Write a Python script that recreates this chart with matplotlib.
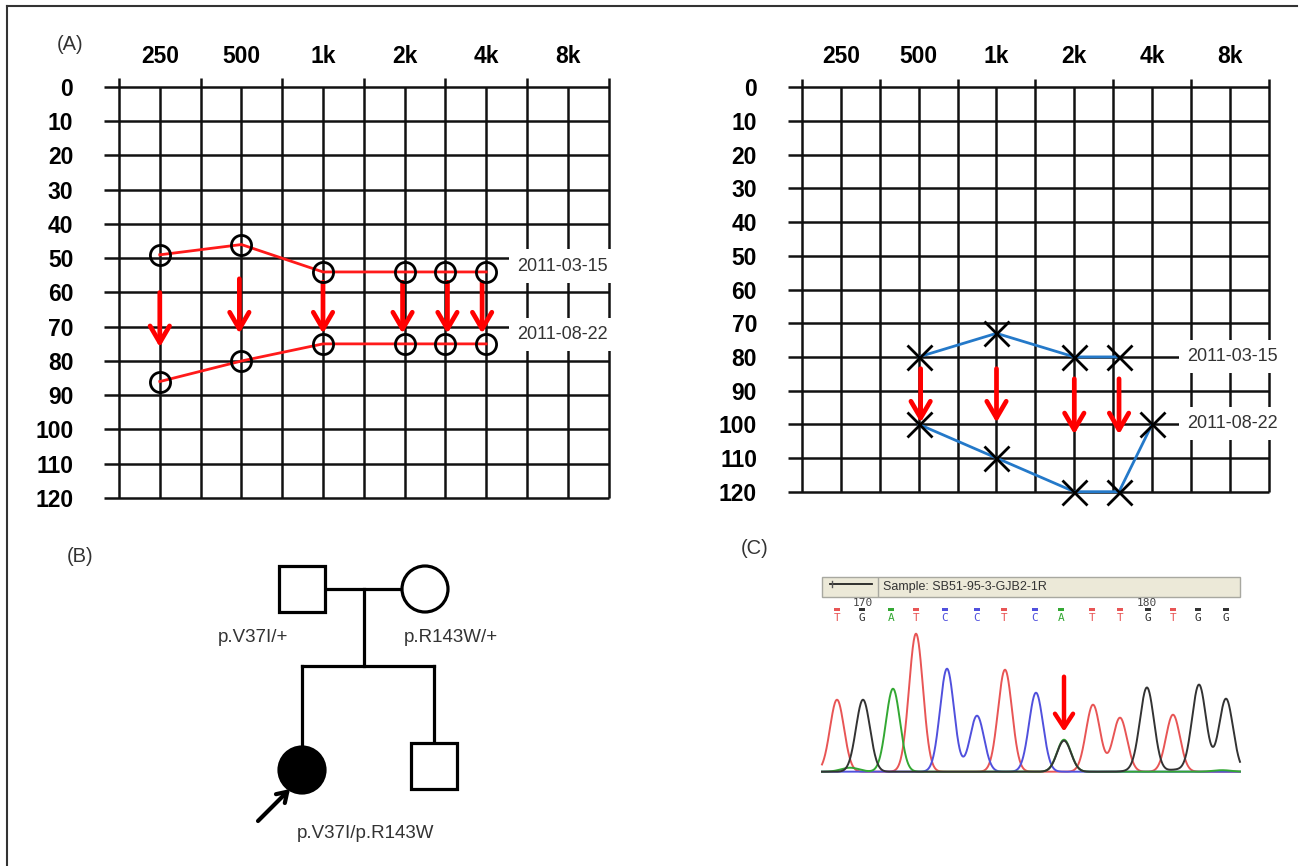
import numpy as np
import matplotlib
matplotlib.use("Agg")
import matplotlib.pyplot as plt
from matplotlib.patches import Rectangle, Circle
from matplotlib.lines import Line2D
from matplotlib import font_manager

plt.rcParams['font.family'] = ['Liberation Sans', 'DejaVu Sans']
installed = {f.name for f in font_manager.fontManager.ttflist}
narrow = 'Liberation Sans Narrow' if 'Liberation Sans Narrow' in installed else 'Liberation Sans'

# ---- audiogram data (x = half-octave step from the left grid edge) ----
freq_labels = ['250', '500', '1k', '2k', '4k', '8k']
freq_pos = [1, 3, 5, 7, 9, 11]
db_ticks = list(range(0, 121, 10))
dates = ['2011-03-15', '2011-08-22']

# right ear (circles)
r_pos = [1, 3, 5, 7, 8, 9]
r_before = [49, 46, 54, 54, 54, 54]
r_after = [86, 80, 75, 75, 75, 75]
r_arrow_pos = [1, 2.95, 5, 6.95, 8.05, 8.9]
r_arrow_from = [60, 56, 57, 57, 57, 57]
r_arrow_to = [76, 72, 72, 72, 72, 72]

# left ear (crosses)
l_pos_before = [3, 5, 7, 8.15]
l_before = [80, 73, 80, 80]
l_pos_after = [3, 5, 7, 8.15, 9]
l_after = [100, 110, 120, 120, 100]
l_arrow_pos = [3.05, 5, 7, 8.15]
l_arrow_from = [83.5, 83.5, 86.5, 86.5]
l_arrow_to = [99.5, 99.5, 103, 103]

# ---- pedigree ----
ped_x = [302, 425, 302, 434]
ped_y = [589, 589, 770, 766]
ped_sex = ['M', 'F', 'F', 'M']
ped_affected = [False, False, True, False]
ped_text = ['p.V37I/+', 'p.R143W/+', 'p.V37I/p.R143W']
ped_text_x = [253, 451, 366]
ped_text_y = [637, 637, 833]

# ---- chromatogram ----
bases = list('TGATCCTCATTGTGG')
base_x = [17, 42, 71, 96, 125, 157, 184, 215, 241, 272, 300, 328, 353, 378, 406]
peak_pos = [17, 43, 73, 96, 127, 157, 185, 216, 244, 244, 273, 300, 327, 353, 379, 406]
peak_base = ['T', 'G', 'A', 'T', 'C', 'C', 'T', 'C', 'A', 'G', 'T', 'T', 'G', 'T', 'G', 'G']
peak_h = [72, 72, 83, 138, 103, 56, 102, 79, 32, 31, 67, 54, 83, 57, 87, 73]
minor_pos = [30, 318, 356, 402]
minor_base = ['A', 'G', 'G', 'A']
minor_h = [4, 2, 2, 1.5]
base_colors = {'T': '#E85555', 'G': '#333333', 'A': '#33A833', 'C': '#5050DD'}
tick_labels_c = ['170', '180']
tick_pos_c = [43, 327]

W, H = 1310, 866
fig = plt.figure(figsize=(W / 100, H / 100), dpi=100)
fig.patch.set_facecolor('white')


def px_axes(x0, y0, x1, y1):
    return fig.add_axes([x0 / W, 1 - y1 / H, (x1 - x0) / W, (y1 - y0) / H])


def fig_text(x, y, s, **kw):
    fig.text(x / W, 1 - y / H, s, **kw)


# outer frame (left and top only)
fig.add_artist(Line2D([7 / W, 7 / W], [0, 1 - 6 / H], color='#333333', lw=1.5))
fig.add_artist(Line2D([7 / W, 1297 / W], [1 - 6 / H, 1 - 6 / H], color='#333333', lw=1.5))


def audiogram(box, xb, yb, xa, ya, ax_pos, a_from, a_to, marker, ms, line_c, date_x, date_y):
    ax = px_axes(*box)
    ax.set_xlim(-0.37, 12)
    ax.set_ylim(120, -2.8)
    for s in ax.spines.values():
        s.set_visible(False)
    ax.patch.set_alpha(0)
    ax.hlines(db_ticks, -0.37, 12, colors='#111111', lw=1.8, clip_on=False, zorder=1)
    for i in range(13):
        ax.vlines(i, -2.5 if i % 2 == 0 else 0, 120, colors='#111111', lw=1.8,
                  clip_on=False, zorder=1)
    ax.xaxis.tick_top()
    ax.set_xticks(freq_pos, freq_labels, fontsize=16.5, fontweight='bold')
    ax.set_yticks(db_ticks, [str(v) for v in db_ticks], fontsize=16.5, fontweight='bold')
    ax.tick_params(length=0)
    ax.tick_params(axis='x', pad=7)
    ax.tick_params(axis='y', pad=22)
    for d, y in zip(dates, date_y):
        ax.text(date_x, y, d, ha='left', va='center', fontsize=13, family=narrow,
                color='#333333', zorder=3,
                bbox=dict(boxstyle='square,pad=0.45', fc='white', ec='none'))
    ax.plot(xb, yb, color=line_c, lw=2, zorder=4, clip_on=False)
    ax.plot(xa, ya, color=line_c, lw=2, zorder=4, clip_on=False)
    for x, y0, y1 in zip(ax_pos, a_from, a_to):
        ax.annotate('', xy=(x, y1), xytext=(x, y0), zorder=5,
                    arrowprops=dict(arrowstyle='->,head_length=1.2,head_width=0.7',
                                    color='#FF0000', lw=3.4, shrinkA=0, shrinkB=0))
    ax.plot(xb, yb, ls='none', marker=marker, ms=ms, mfc='none', mec='black',
            mew=2.0, zorder=6, clip_on=False)
    ax.plot(xa, ya, ls='none', marker=marker, ms=ms, mfc='none', mec='black',
            mew=2.0, zorder=6, clip_on=False)
    return ax


audiogram((103.9, 77.4, 608.6, 498), r_pos, r_before, r_pos, r_after,
          r_arrow_pos, r_arrow_from, r_arrow_to, 'o', 14.5, '#FF1A1A', 9.75, [52.3, 72.2])
audiogram((787.6, 77.9, 1268.8, 491.7), l_pos_before, l_before, l_pos_after, l_after,
          l_arrow_pos, l_arrow_from, l_arrow_to, 'x', 18, '#2479C9', 9.9, [79.8, 99.8])

# panel letters
fig_text(70, 44, '(A)', fontsize=14.5, color='#333333', ha='center', va='center')
fig_text(80, 556, '(B)', fontsize=14.5, color='#333333', ha='center', va='center')
fig_text(755, 548, '(C)', fontsize=14.5, color='#333333', ha='center', va='center')

# ---- pedigree ----
ped = px_axes(200, 545, 520, 860)
ped.set_xlim(200, 520)
ped.set_ylim(860, 545)
ped.axis('off')
lw_p = 2.3
half = 23
# marriage, descent and sibship lines
ped.plot([ped_x[0] + half, ped_x[1] - half], [ped_y[0], ped_y[1]], color='black', lw=lw_p)
mid = (ped_x[0] + ped_x[1]) / 2
sib_y = 666
ped.plot([mid, mid], [ped_y[0], sib_y], color='black', lw=lw_p)
ped.plot([ped_x[2], ped_x[3]], [sib_y, sib_y], color='black', lw=lw_p)
for i in (2, 3):
    ped.plot([ped_x[i], ped_x[i]], [sib_y, ped_y[i] - half], color='black', lw=lw_p)
for x, y, sex, aff in zip(ped_x, ped_y, ped_sex, ped_affected):
    fc = 'black' if aff else 'white'
    if sex == 'M':
        ped.add_patch(Rectangle((x - half, y - half), 2 * half, 2 * half, fc=fc,
                                ec='black', lw=lw_p, zorder=3))
    else:
        ped.add_patch(Circle((x, y), half, fc=fc, ec='black', lw=lw_p, zorder=3))
for s, x, y in zip(ped_text, ped_text_x, ped_text_y):
    ped.text(x, y, s, ha='center', va='center', fontsize=13.5, family=narrow, color='#333333')
ped.annotate('', xy=(290, 789), xytext=(258, 821),
             arrowprops=dict(arrowstyle='->,head_length=0.7,head_width=0.45',
                             color='black', lw=3, shrinkA=0, shrinkB=0))

# ---- chromatogram ----
ch = px_axes(820, 575, 1242, 776)
ch.set_xlim(0, 422)
ch.set_ylim(-4.3, 196.7)
ch.axis('off')
ch.add_patch(Rectangle((2, 174.7), 418, 20, fc='#ECE9D8', ec='#A8A8A0', lw=1))
ch.plot([58, 58], [175.5, 194], color='#A8A8A0', lw=1)
ch.plot([10, 52], [188, 188], color='#222222', lw=1.3)
ch.plot([12, 12], [185, 191], color='#555555', lw=1)
ch.text(63, 185, 'Sample: SB51-95-3-GJB2-1R', fontsize=9, color='#333333',
        ha='left', va='center')
for s, x in zip(tick_labels_c, tick_pos_c):
    ch.text(x, 169, s, fontsize=8, family='DejaVu Sans Mono', color='#444444',
            ha='center', va='center')
for b, x in zip(bases, base_x):
    ch.add_patch(Rectangle((x - 3, 160.5), 6, 3.5, fc=base_colors[b], ec='none'))
    ch.text(x, 153.5, b, fontsize=8, family='DejaVu Sans Mono', color=base_colors[b],
            ha='center', va='center')

xs = np.linspace(2, 420, 1600)
sigma = 7.0
for b in ['T', 'C', 'A', 'G']:
    sig = np.zeros_like(xs)
    for p, pb, h in zip(peak_pos, peak_base, peak_h):
        if pb == b:
            sig += h * np.exp(-0.5 * ((xs - p) / sigma) ** 2)
    for p, pb, h in zip(minor_pos, minor_base, minor_h):
        if pb == b:
            sig += h * np.exp(-0.5 * ((xs - p) / 9) ** 2)
    ch.plot(xs, sig, color=base_colors[b], lw=1.4)
ch.annotate('', xy=(244, 40), xytext=(244, 95),
            arrowprops=dict(arrowstyle='->,head_length=1.0,head_width=0.65',
                            color='#FF0000', lw=3.2, shrinkA=0, shrinkB=0))

fig.savefig('out.png', dpi=100)
